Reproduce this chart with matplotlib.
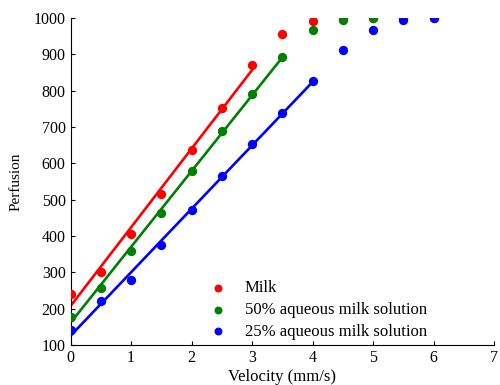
import numpy as np
import matplotlib
matplotlib.use("Agg")
import matplotlib.pyplot as plt

plt.rcParams['font.family'] = ['Liberation Serif', 'DejaVu Serif']

velocity = [0, 0.5, 1, 1.5, 2, 2.5, 3, 3.5, 4, 4.5, 5, 5.5, 6]
milk = [240, 300, 405, 517, 637, 752, 872, 957, 992, 1000, 1000, 1000, 1000]
milk50 = [178, 258, 360, 463, 580, 688, 790, 893, 967, 995, 1000, 1000]
milk25 = [140, 220, 280, 375, 472, 565, 653, 740, 826, 913, 967, 996, 1000]
labels = ['Milk', '50% aqueous milk solution', '25% aqueous milk solution']
colors = ['#ff0000', '#008000', '#0000ff']
fit_end = [3, 3.5, 4]

fig = plt.figure(figsize=(5, 3.85), dpi=100)
ax = fig.add_axes([0.141, 0.104, 0.847, 0.849])

series = [milk, milk50, milk25]
handles = []
for ys, c, lab, xe in zip(series, colors, labels, fit_end):
    xs = np.array(velocity[:len(ys)], dtype=float)
    ys = np.array(ys, dtype=float)
    m = xs <= xe + 1e-9
    p = np.polyfit(xs[m], ys[m], 1)
    xl = np.array([0, xe])
    ax.plot(xl, np.polyval(p, xl), color=c, lw=1.9, zorder=2)
    h = ax.scatter(xs, ys, s=45, color=c, zorder=3, label=lab, linewidths=0)
    handles.append(h)

ax.set_xlim(0, 7)
ax.set_ylim(100, 1000)
ax.set_xticks(range(0, 8))
ax.set_yticks(range(100, 1001, 100))
ax.spines['top'].set_visible(False)
ax.spines['right'].set_visible(False)
ax.tick_params(direction='in', length=3, labelsize=11.5, width=0.8)
ax.set_xlabel('Velocity (mm/s)', fontsize=12, labelpad=2)
ax.set_ylabel('Perfusion', fontsize=11, labelpad=8)

ax.legend(handles=handles, loc='lower left', bbox_to_anchor=(0.274, -0.03),
          frameon=False, fontsize=12, handletextpad=0.6, labelspacing=0.35,
          scatterpoints=1, markerscale=0.85)

fig.savefig('out.png', dpi=100)
